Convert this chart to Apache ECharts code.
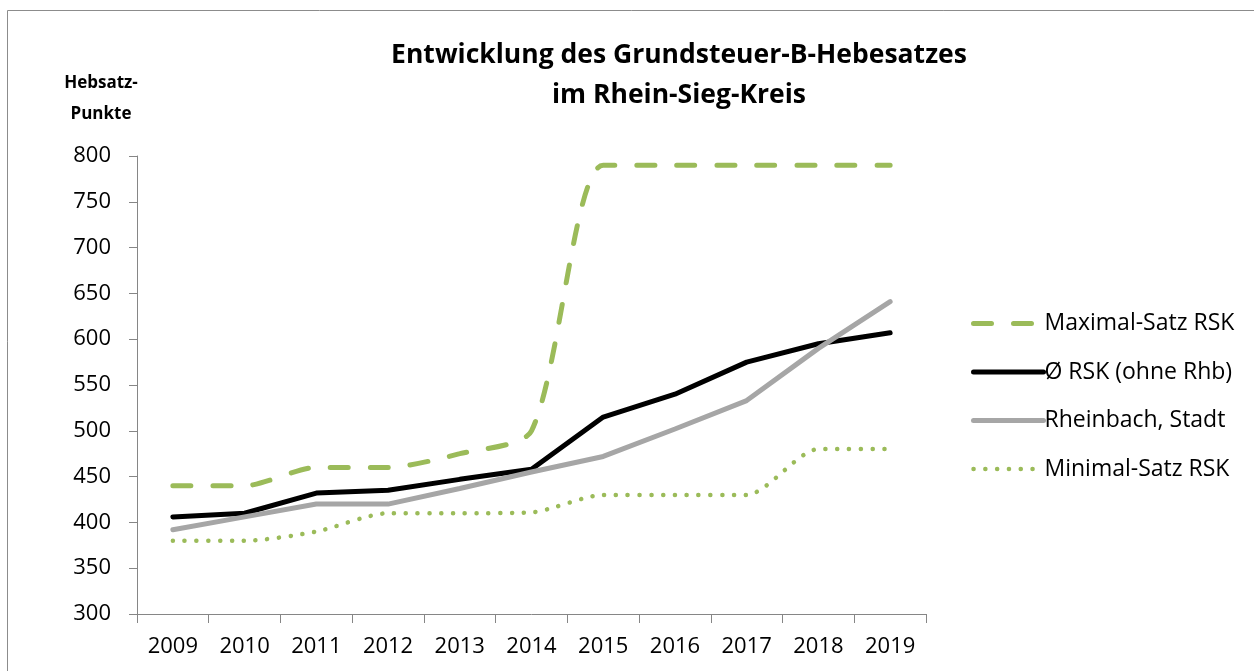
<!DOCTYPE html>
<html><head><meta charset="utf-8">
<script src="https://cdn.jsdelivr.net/npm/echarts@6/dist/echarts.min.js"></script>
<style>html,body{margin:0;padding:0;background:#fff}#c{width:1254px;height:671px}</style>
</head><body><div id="c"></div>
<script>
const years = ['2009','2010','2011','2012','2013','2014','2015','2016','2017','2018','2019'];
const maxSatz = [440,440,460,460,475,500,790,790,790,790,790];
const avgRSK = [406,410,432,435,447,458,515,540,575,595,607];
const rheinbach = [392,406,420,420,437,455,472,502,533,590,641];
const minSatz = [380,380,390,410,410,411,430,430,430,480,480];
const seriesNames = ['Maximal-Satz RSK','Ø RSK (ohne Rhb)','Rheinbach, Stadt','Minimal-Satz RSK'];
const yTicks = {min:300, max:800, interval:50};

const FONT = '"Open Sans", sans-serif';
const GREEN = '#9BBB59', GREY = '#A6A6A6';
const dashMax = [18,22], dotMin = [0.1,11.7];
const chart = echarts.init(document.getElementById('c'));
chart.setOption({
  animation:false,
  backgroundColor:'#fff',
  graphic:[{type:'rect',shape:{x:7.5,y:10.5,width:1260,height:700},style:{fill:'none',stroke:'#8c8c8c',lineWidth:1}}],
  title:{text:'Entwicklung des Grundsteuer-B-Hebesatzes\nim Rhein-Sieg-Kreis',left:674,top:30,textAlign:'center',
    textStyle:{fontFamily:FONT,fontWeight:'bold',fontSize:26.5,color:'#000',lineHeight:40}},
  grid:{left:137,right:328,top:156,bottom:57},
  legend:{orient:'vertical',left:966,top:307,itemWidth:70,itemHeight:20,itemGap:25.5,
    itemStyle:{opacity:0},
    textStyle:{fontFamily:FONT,fontSize:23,color:'#000',padding:[0,0,0,-4]},
    data:[
      {name:seriesNames[0],lineStyle:{color:GREEN,width:5,type:dashMax,cap:'round'}},
      {name:seriesNames[1],lineStyle:{color:'#000',width:5,cap:'round'}},
      {name:seriesNames[2],lineStyle:{color:GREY,width:5,cap:'round'}},
      {name:seriesNames[3],lineStyle:{color:GREEN,width:4.5,type:dotMin,cap:'round'}}
    ]},
  xAxis:{type:'category',data:years,boundaryGap:true,
    axisLine:{lineStyle:{color:'#868686',width:1}},
    axisTick:{show:true,length:9,lineStyle:{color:'#868686'}},
    axisLabel:{fontFamily:FONT,fontSize:22,color:'#000',margin:22}},
  yAxis:{type:'value',min:yTicks.min,max:yTicks.max,interval:yTicks.interval,
    name:'Hebsatz-\nPunkte',nameLocation:'end',nameGap:0,
    nameTextStyle:{fontFamily:FONT,fontWeight:'bold',fontSize:17,color:'#000',align:'center',lineHeight:31,padding:[0,0,15,-72]},
    axisLine:{show:true,lineStyle:{color:'#868686',width:1}},
    axisTick:{show:true,length:8,inside:false,lineStyle:{color:'#868686'}},
    splitLine:{show:false},
    axisLabel:{fontFamily:FONT,fontSize:22,color:'#000',margin:26}},
  series:[
    {name:seriesNames[0],type:'line',data:maxSatz,symbol:'none',smooth:0.25,
      itemStyle:{color:GREEN},
      lineStyle:{color:GREEN,width:5,type:dashMax,cap:'round'}},
    {name:seriesNames[1],type:'line',data:avgRSK,symbol:'none',
      itemStyle:{color:'#000'},
      lineStyle:{color:'#000',width:5,cap:'round'}},
    {name:seriesNames[2],type:'line',data:rheinbach,symbol:'none',
      itemStyle:{color:GREY},
      lineStyle:{color:GREY,width:5,cap:'round'}},
    {name:seriesNames[3],type:'line',data:minSatz,symbol:'none',smooth:0.25,
      itemStyle:{color:GREEN},
      lineStyle:{color:GREEN,width:4.5,type:dotMin,cap:'round'}}
  ]
});
</script></body></html>
